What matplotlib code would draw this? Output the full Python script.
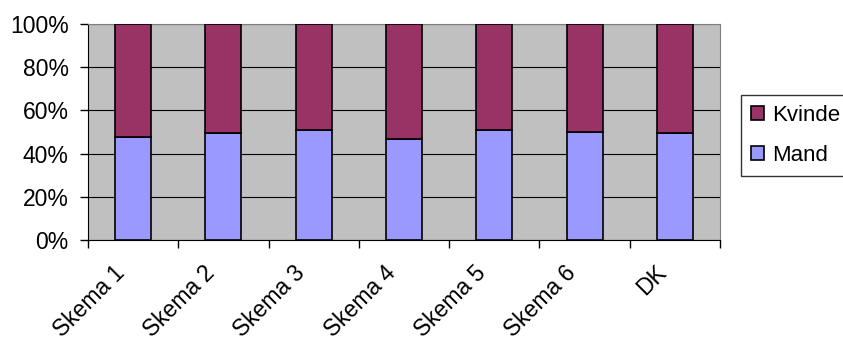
import numpy as np
import matplotlib.pyplot as plt
from matplotlib.ticker import FixedLocator, PercentFormatter
from matplotlib.transforms import ScaledTranslation

categories = ['Skema 1', 'Skema 2', 'Skema 3', 'Skema 4', 'Skema 5', 'Skema 6', 'DK']
mand = [47.5, 49.4, 50.9, 46.6, 50.9, 50.0, 49.4]
kvinde = [100 - m for m in mand]

plt.rcParams['font.family'] = ['Liberation Sans', 'DejaVu Sans']

fig = plt.figure(figsize=(8.43, 3.43), dpi=100)
ax = fig.add_axes([88 / 843, 103 / 343, 632 / 843, 216 / 343])
ax.set_facecolor('#C0C0C0')

x = np.arange(len(categories))
ax.bar(x, mand, width=0.4, color='#9999FF', edgecolor='black', linewidth=1.2, label='Mand', zorder=3)
ax.bar(x, kvinde, width=0.4, bottom=mand, color='#993366', edgecolor='black', linewidth=1.2,
       label='Kvinde', zorder=3)

ax.set_xlim(-0.5, len(categories) - 0.5)
ax.set_ylim(0, 100)
ax.set_yticks([0, 20, 40, 60, 80, 100])
ax.yaxis.set_major_formatter(PercentFormatter(decimals=0))
ax.yaxis.grid(True, color='black', linewidth=0.8, zorder=0)
ax.set_axisbelow(True)

ax.set_xticks(x)
ax.set_xticklabels(categories, rotation=45, ha='right', va='center', rotation_mode='anchor')
ax.xaxis.set_minor_locator(FixedLocator(np.arange(-0.5, len(categories), 1.0)))
ax.tick_params(axis='x', which='major', length=0, pad=21, labelsize=16.5)
ax.tick_params(axis='x', which='minor', length=6, width=1, direction='out')
ax.tick_params(axis='y', length=6, width=1, direction='out', labelsize=16.5, pad=8)

# shift rotated labels a little to the left
shift = ScaledTranslation(-12 / 100, 0, fig.dpi_scale_trans)
for lbl in ax.get_xticklabels():
    lbl.set_transform(lbl.get_transform() + shift)

for s in ['top', 'right']:
    ax.spines[s].set_color('#808080')
for s in ['left', 'bottom']:
    ax.spines[s].set_color('black')

handles, labels = ax.get_legend_handles_labels()
leg = fig.legend(handles[::-1], labels[::-1], loc='upper left',
                 bbox_to_anchor=(741 / 843, 1 - 95 / 343), frameon=True, fancybox=False,
                 fontsize=16, handlelength=0.6, handleheight=0.6, handletextpad=0.35,
                 labelspacing=0.85, borderpad=0.45, borderaxespad=0)
leg.get_frame().set_edgecolor('black')
leg.get_frame().set_linewidth(1)

fig.savefig('out.png', dpi=100)
